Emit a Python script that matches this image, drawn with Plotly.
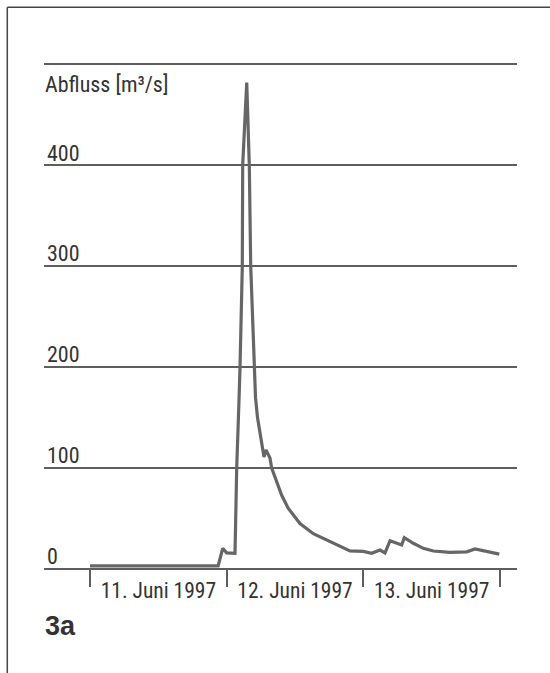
import plotly.graph_objects as go

# Hours since 11 June 1997 00:00
hours = [0, 22.5, 23.3, 24.0, 25.46, 25.76, 26.16, 26.34, 26.74, 26.81, 27.52,
         27.97, 28.22, 28.8, 29.06, 29.41, 29.85, 30.43, 30.55, 30.9, 31.31, 31.6, 31.9,
         33.07, 33.66, 34.82, 36.87, 39.21, 41.56, 43.9, 45.65, 47.99, 49.46,
         50.92, 51.8, 52.68, 54.73, 55.19, 56.77, 58.53, 60.28, 63.21, 66.15,
         67.6, 69.06, 71.87]
abfluss = [3, 3, 20.5, 16, 15.5, 100, 167, 200, 300, 400, 482,
           400, 300, 200, 170, 150, 135, 118, 111, 118, 113, 110, 100,
           81.5, 73, 60, 45, 35, 28.7, 22, 18, 17.5, 15.5,
           18.8, 16, 28, 23.8, 31, 25.5, 20.5, 17.8, 16.5, 17,
           19.8, 18, 14.8]

day_centers = [12, 36, 60]
day_labels = ["11. Juni 1997", "12. Juni 1997", "13. Juni 1997"]
day_bounds = [0, 24, 48, 72]
y_ticks = [0, 100, 200, 300, 400]
y_ticktext = ["0", "100", "200", "300", "400"]
y_top = 500
y_title = "Abfluss [m³/s]"
panel_label = "<b>3a</b>"

FONT = "Liberation Sans Narrow, Arial Narrow, Roboto Condensed, DejaVu Sans Condensed, Liberation Sans, sans-serif"
GREY = "#5e5e5e"
LINE = "#666666"
TEXT = "#333333"

W, H = 550, 673
PX_PER_UNIT = 1.0094
Y_MIN, Y_MAX = -5, 502
ZERO_PX = 569

fig = go.Figure()
fig.add_trace(go.Scatter(x=hours, y=abfluss, mode="lines",
                         line=dict(color=LINE, width=3.2), hoverinfo="skip"))

fig.update_layout(
    width=W, height=H,
    margin=dict(l=0, r=0, t=0, b=0),
    paper_bgcolor="white", plot_bgcolor="white",
    showlegend=False,
    font=dict(family=FONT, size=22, color=TEXT),
    xaxis=dict(
        domain=[44 / W, 517.3 / W],
        range=[-8.08, 75.03],
        anchor="free", position=(H - ZERO_PX) / H,
        tickmode="array", tickvals=day_centers, ticktext=day_labels,
        ticks="", showgrid=False, zeroline=False,
        showline=True, linecolor=GREY, linewidth=1.5,
        tickfont=dict(family=FONT, size=21.5, color=TEXT),
        ticklabelstandoff=2,
        minor=dict(tickmode="array", tickvals=day_bounds, ticks="outside",
                   ticklen=17, tickwidth=1.5, tickcolor=GREY, showgrid=False),
    ),
    yaxis=dict(
        domain=[(H - (ZERO_PX - Y_MIN * PX_PER_UNIT)) / H,
                (H - (ZERO_PX - Y_MAX * PX_PER_UNIT)) / H],
        range=[Y_MIN, Y_MAX],
        tickmode="array", tickvals=y_ticks, ticktext=y_ticktext,
        ticklabelposition="inside top",
        ticklabelshift=3,
        ticks="", showgrid=True, gridcolor=GREY, gridwidth=1.5,
        zeroline=False, showline=False,
        tickfont=dict(family=FONT, size=22, color=TEXT),
        minor=dict(tickmode="array", tickvals=[y_top], ticks="",
                   showgrid=True, gridcolor=GREY, gridwidth=1.5),
    ),
)

fig.add_annotation(text=y_title, xref="paper", yref="y", x=43 / W, y=y_top,
                   xanchor="left", yanchor="top", yshift=-6, showarrow=False,
                   font=dict(family=FONT, size=22, color=TEXT))
fig.add_annotation(text=panel_label, xref="paper", yref="paper", x=43 / W,
                   y=(H - 609) / H, xanchor="left", yanchor="top", showarrow=False,
                   font=dict(family="Liberation Sans, Arial, sans-serif", size=27, color=TEXT))

# frame (top and left edges)
fig.add_shape(type="line", xref="paper", yref="paper", x0=7.3 / W, x1=1,
              y0=(H - 7.3) / H, y1=(H - 7.3) / H, line=dict(color="#444444", width=1.5))
fig.add_shape(type="line", xref="paper", yref="paper", x0=7.3 / W, x1=7.3 / W,
              y0=0, y1=(H - 7.3) / H, line=dict(color="#444444", width=1.5))

fig.write_html("out.html")
